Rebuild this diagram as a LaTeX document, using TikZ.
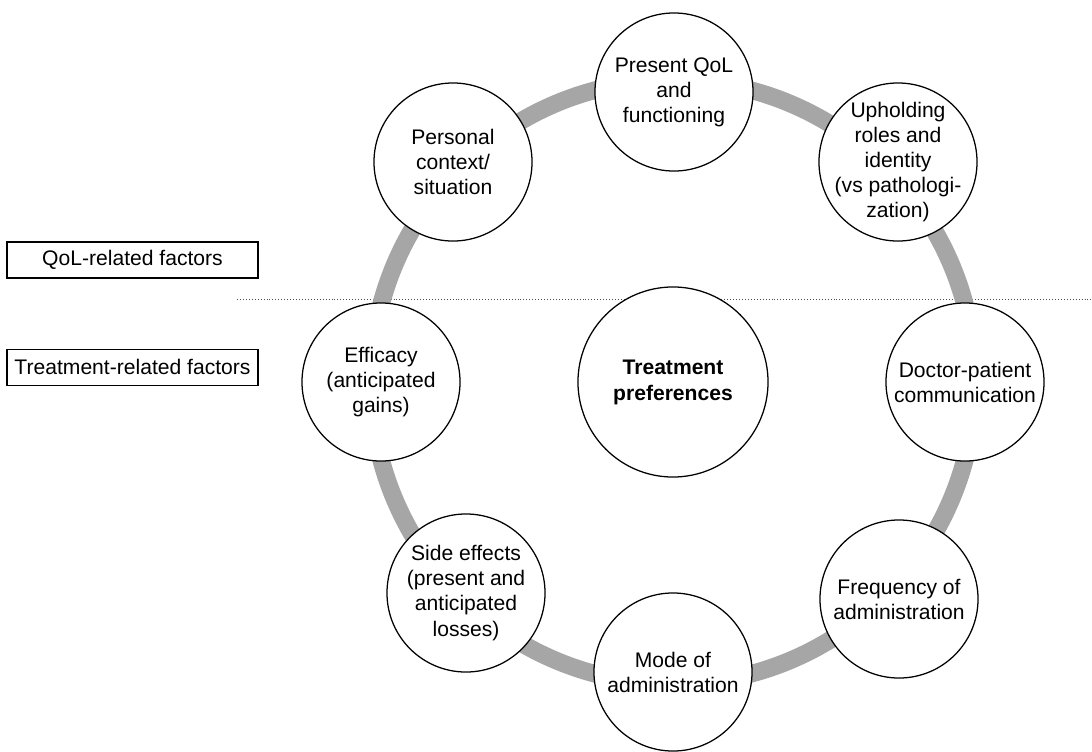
\documentclass[tikz,border=0pt]{standalone}
\usepackage{fontspec}
\setmainfont{Liberation Sans}
\usetikzlibrary{positioning}
\definecolor{ringgray}{RGB}{166,166,166}
\tikzstyle{factor}=[circle,draw=black,fill=white,line width=0.9pt,minimum size=3.95cm,inner sep=-15pt,align=center,font=\fontsize{15}{17.8}\selectfont]
\tikzstyle{hub}=[factor,minimum size=4.75cm,font=\fontsize{15}{18.5}\selectfont\bfseries]
\tikzstyle{legendbox}=[draw=black,line width=0.8pt,minimum width=6.275cm,minimum height=0.9cm,inner sep=0pt,font=\fontsize{15}{17}\selectfont]
\tikzstyle{ring}=[draw=ringgray,line width=12.5pt]
\tikzstyle{divider}=[draw=black!70,line width=0.7pt,dash pattern=on 0.7pt off 1.4pt]

\begin{document}
\begin{tikzpicture}[x=0.025cm,y=-0.025cm]
    \useasboundingbox (0,0) rectangle (1092,751);

    % legend on the left
    \node[legendbox] (qol) at (132.5,260) {QoL-related factors};
    \node[legendbox,below=1.75cm of qol] (treat) {Treatment-related factors};

    % dotted split between the two groups
    \coordinate (cutL) at (237,299);
    \coordinate (cutR) at (1092,299);
    \path[divider] (cutL) -- (cutR);

    % grey ring behind the factors
    \coordinate (hubc) at (673,382);
    \path[ring] (hubc) circle[radius=302];

    \node[hub] (pref) at (hubc) {Treatment\\preferences};

    \foreach \pos/\name/\label in {{(674,92)/present/{Present QoL\\and\\functioning}},
        {(898,162)/uphold/{Upholding\\roles and\\identity\\(vs pathologi-\\zation)}},
        {(965,382)/doctor/{Doctor-patient\\communication}},
        {(899,599)/freq/{Frequency of\\administration}},
        {(673,672)/mode/{Mode of\\administration}},
        {(466,593)/side/{Side effects\\(present and\\anticipated\\losses)}},
        {(381,382)/efficacy/{Efficacy\\(anticipated\\gains)}},
        {(453,162)/personal/{Personal\\context/\\situation}}}
        \node[factor] (\name) at \pos {\label};
\end{tikzpicture}
\end{document}
